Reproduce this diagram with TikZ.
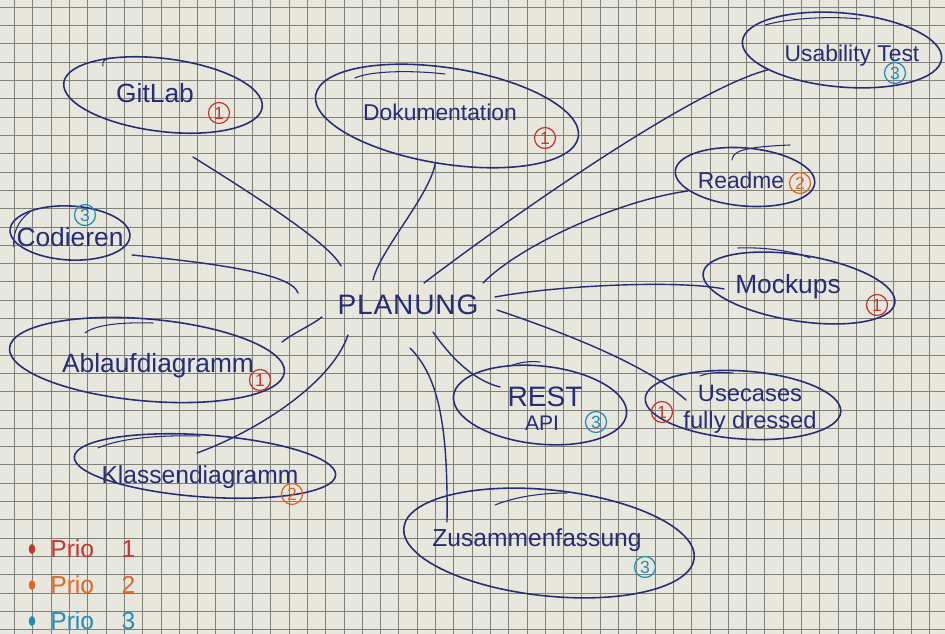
\documentclass[tikz,border=0pt]{standalone}
\usepackage{fontspec}
\setmainfont{Liberation Sans}
\usetikzlibrary{shapes.geometric,calc}

\definecolor{paper}{RGB}{232,231,221}
\definecolor{gridc}{RGB}{128,128,122}
\definecolor{ink}{RGB}{38,44,118}
\definecolor{prioA}{RGB}{200,52,44}
\definecolor{prioB}{RGB}{226,102,34}
\definecolor{prioC}{RGB}{36,140,184}

\begin{document}
\begin{tikzpicture}[x=0.02cm,y=-0.02cm,
  bubble/.style={ellipse,draw=ink,line width=0.9pt,inner sep=0pt},
  word/.style={text=ink,inner sep=0pt,font=\fontsize{#1}{#1}\selectfont},
  word/.default=14,
  badge/.style={circle,draw=#1,text=#1,line width=0.7pt,minimum size=0.42cm,
    inner sep=0pt,font=\fontsize{10}{10}\selectfont},
  wire/.style={draw=ink,line width=0.8pt,line cap=round},
  stroke/.style={draw=ink,line width=0.6pt,line cap=round},
  legend/.style={anchor=west,inner sep=0pt,text=#1,font=\fontsize{14}{14}\selectfont},
  dot/.style={fill=#1,draw=none,ellipse,minimum width=0.13cm,minimum height=0.2cm,inner sep=0pt}
]
% squared paper
\fill[paper] (0,0) rectangle (945,634);
\useasboundingbox (0,0) rectangle (945,634);
\begin{scope}
\clip (0,0) rectangle (945,634);
\foreach \i in {0,...,51}
  \draw[gridc,line width=0.45pt] ({14.5+18.3*\i},0) -- ({14.5+18.3*\i},634);
\foreach \j in {0,...,34}
  \draw[gridc,line width=0.45pt] (0,{7.3+18.3*\j}) -- (945,{7.3+18.3*\j});
\end{scope}

% centre topic
\node[word=16] (plan) at (408,305) {\addfontfeature{LetterSpace=3}PLANUNG};

% bubbles
\node[bubble,minimum width=4.0cm,minimum height=1.46cm,rotate=-7] (gitlab) at (163,95) {};
\node[bubble,minimum width=5.32cm,minimum height=1.92cm,rotate=-9] (dok) at (447,116) {};
\node[bubble,minimum width=4.0cm,minimum height=1.48cm,rotate=-5] (usab) at (842,50) {};
\node[bubble,minimum width=2.8cm,minimum height=1.16cm,rotate=-5] (readme) at (745,177) {};
\node[bubble,minimum width=3.88cm,minimum height=1.32cm,rotate=-9] (mock) at (799,288) {};
\node[bubble,minimum width=3.92cm,minimum height=1.36cm,rotate=-4] (usec) at (743,405) {};
\node[bubble,minimum width=3.48cm,minimum height=1.56cm,rotate=-6] (rest) at (540,405) {};
\node[bubble,minimum width=5.84cm,minimum height=2.12cm,rotate=-6] (zus) at (549,543) {};
\node[bubble,minimum width=5.24cm,minimum height=1.24cm,rotate=-4] (klass) at (205,466) {};
\node[bubble,minimum width=5.52cm,minimum height=1.64cm,rotate=-5] (ablauf) at (147,360) {};
\node[bubble,minimum width=2.4cm,minimum height=1.08cm,rotate=-3] (cod) at (70,233) {};

% second pen strokes along the bubble outlines
\draw[stroke] (355,78) .. controls (370,71) and (410,70) .. (445,74);
\draw[stroke] (765,25) .. controls (790,18) and (830,16) .. (860,19);
\draw[stroke] (732,160) .. controls (733,152) and (740,147) .. (790,145);
\draw[stroke] (738,248) .. controls (760,247) and (790,250) .. (810,258);
\draw[stroke] (85,333) .. controls (95,325) and (120,322) .. (153,323);
\draw[stroke] (98,448) .. controls (120,438) and (160,435) .. (200,436);
\draw[stroke] (30,212) .. controls (18,220) and (12,235) .. (14,247);
\draw[stroke] (495,505) .. controls (515,497) and (540,493) .. (567,493);
\draw[stroke] (510,366) .. controls (520,362) and (530,361) .. (540,362);
\draw[stroke] (700,376) .. controls (710,372) and (722,372) .. (733,373);
\draw[stroke] (103,66) .. controls (102,62) and (104,59) .. (110,58);

% bubble texts
\node[word=15] (gitlabT) at (155,93) {GitLab};
\node[word=13] (dokT) at (440,112) {Dokumentation};
\node[word=13] (usabT) at (852,56) {Usability Test};
\node[word=13] (readmeT) at (741,180) {Readme};
\node[word=15] (mockT) at (788,287) {Mockups};
\node[word=13.5,align=center] (usecT) at (750,409) {Usecases\\[2pt]fully dressed};
\node[word=16] (restT) at (545,397) {REST};
\node[word=12] (apiT) at (542,423) {API};
\node[word=14] (zusT) at (537,540) {Zusammenfassung};
\node[word=14] (klassT) at (200,477) {Klassendiagramm};
\node[word=15] (ablaufT) at (158,366) {Ablaufdiagramm};
\node[word=15] (codT) at (70,237) {Codieren};

% priority badges
\node[badge=prioA] (gitlabP) at (219,113) {1};
\node[badge=prioA] (dokP) at (545,138) {1};
\node[badge=prioC] (usabP) at (895,73) {3};
\node[badge=prioB] (readmeP) at (800,183) {2};
\node[badge=prioA] (mockP) at (877,305) {1};
\node[badge=prioA] (usecP) at (662,412) {1};
\node[badge=prioC] (restP) at (596,422) {3};
\node[badge=prioC] (zusP) at (645,567) {3};
\node[badge=prioB] (klassP) at (292,494) {2};
\node[badge=prioA] (ablaufP) at (260,380) {1};
\node[badge=prioC] (codP) at (85,215) {3};

% loose ends of the branches
\coordinate (gA) at (193,157);  \coordinate (gB) at (341,266);
\coordinate (dB) at (373,280);
\coordinate (uB) at (424,283);
\coordinate (rA) at (688,191);  \coordinate (rB) at (483,283);
\coordinate (mA) at (495,297);  \coordinate (mB) at (724,289);
\coordinate (cA) at (497,310);  \coordinate (cB) at (686,400);
\coordinate (sA) at (433,332);  \coordinate (sB) at (500,387);
\coordinate (zA) at (410,348);  \coordinate (zB) at (447,522);
\coordinate (kA) at (348,335);  \coordinate (kB) at (197,453);
\coordinate (aA) at (282,342);  \coordinate (aB) at (322,317);
\coordinate (oA) at (132,255);  \coordinate (oB) at (298,293);

% branches
\draw[wire] (gA) .. controls (270,205) and (330,245) .. (gB);
\draw[wire] (dok.265) .. controls (430,195) and (380,250) .. (dB);
\draw[wire] (usab.200) .. controls (690,90) and (500,225) .. (uB);
\draw[wire] (rA) .. controls (620,200) and (520,245) .. (rB);
\draw[wire] (mA) .. controls (560,285) and (680,280) .. (mB);
\draw[wire] (cA) .. controls (580,338) and (650,368) .. (cB);
\draw[wire] (sA) .. controls (450,356) and (472,380) .. (sB);
\draw[wire] (zA) .. controls (440,378) and (448,430) .. (zB);
\draw[wire] (kA) .. controls (332,382) and (260,430) .. (kB);
\draw[wire] (aA) .. controls (295,332) and (312,325) .. (aB);
\draw[wire] (oA) .. controls (200,262) and (292,272) .. (oB);

% legend
\node[dot=prioA] (d1) at (32,549) {};
\node[dot=prioB] (d2) at (32,585) {};
\node[dot=prioC] (d3) at (32,621) {};
\node[legend=prioA] (l1) at (50,549) {Prio\hspace{0.55cm}1};
\node[legend=prioB] (l2) at (50,585) {Prio\hspace{0.55cm}2};
\node[legend=prioC] (l3) at (50,621) {Prio\hspace{0.55cm}3};
\end{tikzpicture}
\end{document}
